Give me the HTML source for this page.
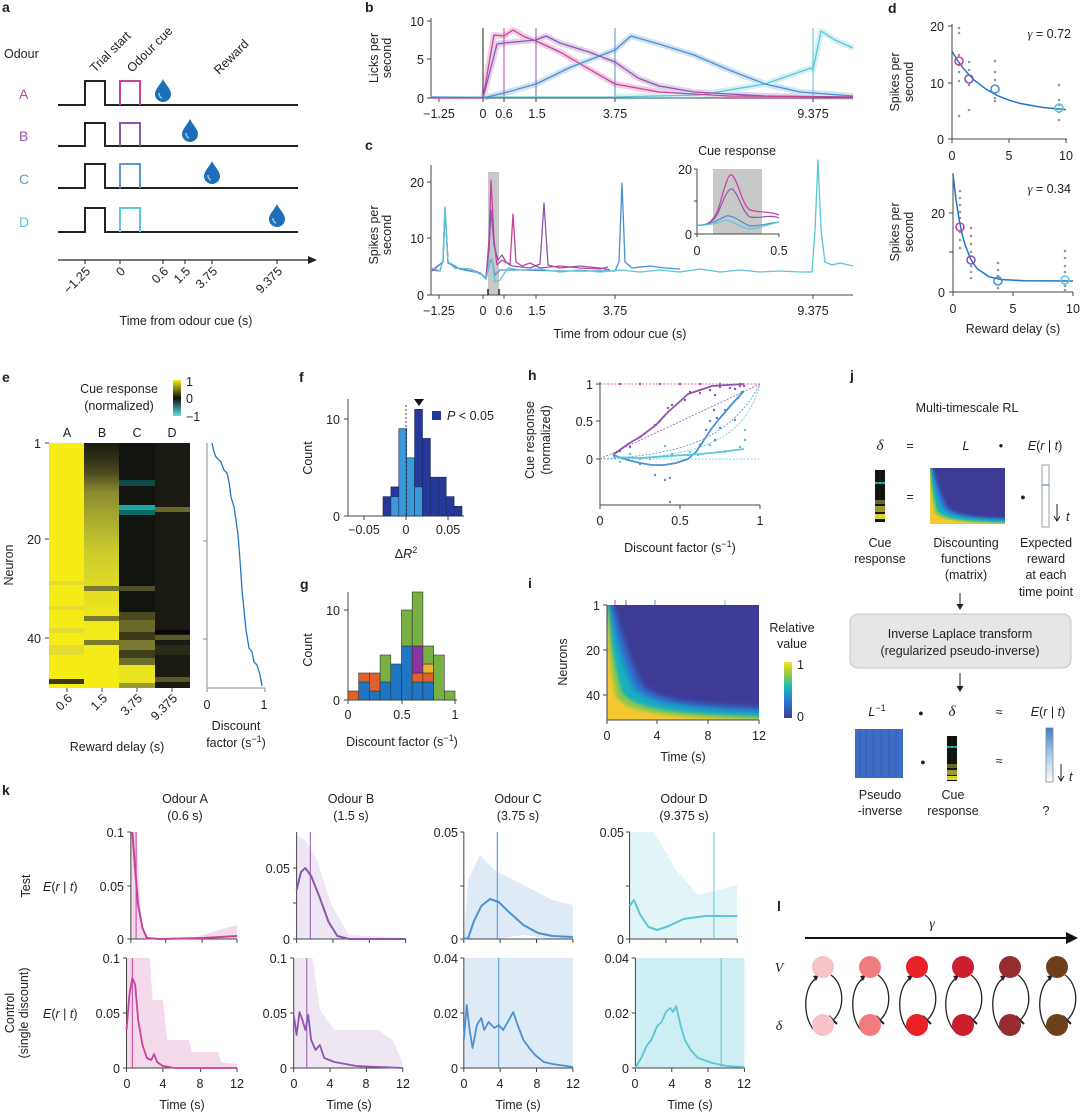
<!DOCTYPE html>
<html><head><meta charset="utf-8"><style>
html,body{margin:0;padding:0;background:#fff}
svg{display:block;font-family:"Liberation Sans",Arial,sans-serif;}
text{fill:#222}
.t{font-size:12.5px}
.L{font-size:14px;font-weight:bold}
.ax{stroke:#444;stroke-width:1;fill:none}
.ks *{vector-effect:non-scaling-stroke}
</style></head><body>
<svg width="1080" height="1114" viewBox="0 0 1080 1114" xmlns="http://www.w3.org/2000/svg">
<defs>
<filter id="bl" x="-10%" y="-10%" width="120%" height="120%"><feGaussianBlur stdDeviation="3"/></filter>
<filter id="bl2"><feGaussianBlur stdDeviation="1.5"/></filter>
<linearGradient id="cbE" x1="0" y1="0" x2="0" y2="1"><stop offset="0" stop-color="#f5ec16"/><stop offset=".5" stop-color="#101010"/><stop offset="1" stop-color="#5fe0e0"/></linearGradient>
<linearGradient id="cbI" x1="0" y1="1" x2="0" y2="0"><stop offset="0" stop-color="#3e3b96"/><stop offset=".3" stop-color="#2a78d0"/><stop offset=".55" stop-color="#18b8b8"/><stop offset=".8" stop-color="#9ccc40"/><stop offset="1" stop-color="#f8e020"/></linearGradient>
<linearGradient id="gB" x1="0" y1="443" x2="0" y2="688" gradientUnits="userSpaceOnUse">
<stop offset="0" stop-color="#1c1c10"/><stop offset=".06" stop-color="#2e2e16"/><stop offset=".12" stop-color="#4a4a20"/><stop offset=".2" stop-color="#8a8a30"/><stop offset=".3" stop-color="#a8a830"/><stop offset=".45" stop-color="#cccc2c"/><stop offset=".6" stop-color="#e2dc26"/><stop offset=".75" stop-color="#f2ea1a"/><stop offset="1" stop-color="#f5ec16"/></linearGradient>
<linearGradient id="vecE" x1="0" y1="0" x2="0" y2="1"><stop offset="0" stop-color="#3a80c8"/><stop offset=".5" stop-color="#a8cce8"/><stop offset="1" stop-color="#fff"/></linearGradient>
<g id="drop"><path d="M0,-11 C2,-6 8,-1 8,4 A8,8 0 0 1 -8,4 C-8,-1 -2,-6 0,-11Z" fill="#1a6fb8"/><path d="M-4,3 Q-4,7 -1,8" stroke="#9cc8ee" stroke-width="1.5" fill="none"/></g>
<g id="ihm">
<rect width="152" height="115" fill="#3e3b96"/>
<path d="M-5,-5 L6,0 C12,20 20,50 35,80 C50,95 80,100 160,103 L160,120 L-5,120Z" fill="#2d6fd0" filter="url(#bl)"/>
<path d="M-5,0 L3,0 C7,25 14,55 26,82 C40,98 70,104 160,107 L160,120 L-5,120Z" fill="#16b0c0" filter="url(#bl)"/>
<path d="M-5,0 L1,0 C3,30 7,60 15,88 C30,104 60,109 160,112 L160,120 L-5,120Z" fill="#8ec84a" filter="url(#bl2)"/>
<path d="M-5,10 L0,10 C1,40 4,70 9,92 C22,108 50,112 160,115 L160,120 L-5,120Z" fill="#f5c830" filter="url(#bl2)"/>
</g>
</defs>

<!-- ===== Panel a ===== -->
<text class="L" x="2" y="12">a</text>
<text class="t" x="4" y="58" font-size="14">Odour</text>
<text class="t" x="95" y="73" transform="rotate(-45 95 73)" font-size="13.5">Trial start</text>
<text class="t" x="132" y="73" transform="rotate(-45 132 73)" font-size="13.5">Odour cue</text>
<text class="t" x="219" y="75" transform="rotate(-45 219 75)" font-size="13.5">Reward</text>
<g font-size="14">
<text x="19" y="99" style="fill:#c8419b">A</text>
<text x="19" y="141" style="fill:#8e55b0">B</text>
<text x="19" y="184" style="fill:#5b9bd5">C</text>
<text x="19" y="227" style="fill:#5cc8d8">D</text>
</g>
<g stroke-width="2" fill="none">
<path d="M58,105H85V81H105V105H298" stroke="#222"/><path d="M120,105V81H140V105" stroke="#c8419b"/>
<path d="M58,146H85V123H105V146H298" stroke="#222"/><path d="M120,146V123H140V146" stroke="#8e55b0"/>
<path d="M58,188H85V164H105V188H298" stroke="#222"/><path d="M120,188V164H140V188" stroke="#5b9bd5"/>
<path d="M58,232H85V208H105V232H298" stroke="#222"/><path d="M120,232V208H140V232" stroke="#5cc8d8"/>
</g>
<use href="#drop" x="163" y="90"/><use href="#drop" x="190" y="130"/><use href="#drop" x="212" y="172"/><use href="#drop" x="277" y="215"/>
<path d="M58,260H310" stroke="#222" stroke-width="1.2"/><path d="M308,256L317,260L308,264Z" fill="#222"/>
<g stroke="#222"><path d="M85,260v4M120,260v4M163,260v4M185,260v4M212,260v4M277,260v4"/></g>
<g class="t" text-anchor="end" font-size="13">
<text x="91" y="272" transform="rotate(-45 91 272)">−1.25</text>
<text x="126" y="272" transform="rotate(-45 126 272)">0</text>
<text x="169" y="272" transform="rotate(-45 169 272)">0.6</text>
<text x="191" y="272" transform="rotate(-45 191 272)">1.5</text>
<text x="218" y="272" transform="rotate(-45 218 272)">3.75</text>
<text x="283" y="272" transform="rotate(-45 283 272)">9.375</text>
</g>
<text class="t" x="186" y="325" text-anchor="middle" font-size="13.5">Time from odour cue (s)</text>

<!-- ===== Panel b ===== -->
<text class="L" x="365" y="12">b</text>
<path class="ax" d="M431,18V98H853"/>
<g stroke="#444"><path d="M427,21h4M427,59h4M427,98h4M439,98v4M483,98v4M504,98v4M536,98v4M615,98v4M813,98v4"/></g>
<g class="t" text-anchor="end"><text x="424" y="26">10</text><text x="424" y="64">5</text><text x="424" y="103">0</text></g>
<g class="t" text-anchor="middle"><text x="439" y="118">−1.25</text><text x="483" y="118">0</text><text x="504" y="118">0.6</text><text x="537" y="118">1.5</text><text x="615" y="118">3.75</text><text x="813" y="118">9.375</text></g>
<text class="t" transform="translate(378,58) rotate(-90)" text-anchor="middle">Licks per</text>
<text class="t" transform="translate(391,58) rotate(-90)" text-anchor="middle">second</text>
<g stroke-width="1"><path d="M483,28V98" stroke="#222"/><path d="M504,28V98" stroke="#c8419b"/><path d="M536,28V98" stroke="#8e55b0"/><path d="M615,28V98" stroke="#4a90d4"/><path d="M813,28V98" stroke="#5bc6d6"/></g>
<g fill="none" stroke-linejoin="round">
<g stroke-width="6" opacity=".25">
<polyline stroke="#c8419b" points="483,98 494,35 504,36 513,30 525,37 536,41 560,52 589,69 615,84 659,92 729,96 853,97"/>
<polyline stroke="#8e55b0" points="483,98 497,44 504,43 536,40 546,36 560,43 589,52 615,62 638,78 659,86 694,92 765,96 853,97"/>
<polyline stroke="#4a90d4" points="483,98 504,93 536,84 571,67 615,50 631,36 659,44 694,55 729,70 765,84 800,92 853,96"/>
<polyline stroke="#5bc6d6" points="615,97 700,95 765,84 811,68 813,70 821,31 835,40 853,48"/>
</g>
<g stroke-width="1.3">
<polyline stroke="#5bc6d6" points="432,97 615,97 700,95 765,84 811,68 813,70 821,31 835,40 853,48"/>
<polyline stroke="#4a90d4" points="432,97 483,98 504,93 536,84 571,67 615,50 631,36 659,44 694,55 729,70 765,84 800,92 853,96"/>
<polyline stroke="#8e55b0" points="432,98 483,98 497,44 504,43 536,40 546,36 560,43 589,52 615,62 638,78 659,86 694,92 765,96 853,97"/>
<polyline stroke="#c8419b" points="432,98 483,98 494,35 504,36 513,30 525,37 536,41 560,52 589,69 615,84 659,92 729,96 853,97"/>
</g></g>

<!-- ===== Panel c ===== -->
<text class="L" x="365" y="150">c</text>
<rect x="488" y="172" width="11" height="123" fill="#c8c8c8"/>
<path class="ax" d="M431,165V295H853"/>
<g stroke="#444"><path d="M427,182h4M427,238h4M427,295h4M439,295v4M483,295v4M504,295v4M536,295v4M615,295v4M813,295v4"/><path d="M488,289v6M499,289v6" stroke="#222" stroke-width="1.5"/></g>
<g class="t" text-anchor="end"><text x="424" y="187">20</text><text x="424" y="243">10</text><text x="424" y="300">0</text></g>
<g class="t" text-anchor="middle"><text x="439" y="315">−1.25</text><text x="483" y="315">0</text><text x="504" y="315">0.6</text><text x="537" y="315">1.5</text><text x="615" y="315">3.75</text><text x="813" y="315">9.375</text></g>
<text class="t" x="620" y="338" text-anchor="middle" font-size="13.5">Time from odour cue (s)</text>
<text class="t" transform="translate(378,235) rotate(-90)" text-anchor="middle">Spikes per</text>
<text class="t" transform="translate(391,235) rotate(-90)" text-anchor="middle">second</text>
<g fill="none" stroke-width="1.3" stroke-linejoin="round">
<polyline stroke="#c8419b" points="432,270 440,271 443,260 445,209 448,262 455,268 470,269 480,273 486,278 489,240 491,180 494,240 497,265 502,260 510,265 513,214 516,262 522,266 530,263 540,268 560,266 580,268 600,269 608,267"/>
<polyline stroke="#8e55b0" points="432,271 443,262 445,210 448,263 460,269 480,273 486,278 489,250 491,210 494,245 498,260 502,255 506,262 512,266 530,268 540,264 544,203 548,265 560,268 580,266 600,268 610,270"/>
<polyline stroke="#4a90d4" points="432,270 443,262 445,208 448,262 460,269 480,273 486,279 490,262 492,260 495,275 500,270 520,270 560,271 600,271 615,271 619,262 622,183 625,262 632,268 650,266 665,268 680,269"/>
<polyline stroke="#5bc6d6" points="432,268 440,271 443,260 445,207 448,262 455,268 470,269 482,275 486,279 490,260 492,259 495,282 500,280 508,268 520,270 540,269 560,272 580,270 600,272 620,270 640,272 660,270 680,272 700,269 720,272 740,270 760,272 780,271 800,272 812,272 815,230 818,160 821,230 825,262 832,265 840,263 853,266"/>
</g>
<!-- inset -->
<text class="t" x="737" y="155" text-anchor="middle" font-size="13">Cue response</text>
<rect x="713" y="169" width="49" height="65" fill="#c8c8c8"/>
<path class="ax" d="M697,169V234H779"/>
<g stroke="#444"><path d="M694,169h3M694,201h3M694,234h3M697,234v3M779,234v3"/></g>
<g class="t" text-anchor="end" font-size="12"><text x="692" y="174">20</text><text x="692" y="239">0</text></g>
<g class="t" text-anchor="middle" font-size="12"><text x="697" y="255">0</text><text x="779" y="255">0.5</text></g>
<g fill="none" stroke-width="1.2">
<path d="M697,225 C705,226 712,224 718,210 C724,190 728,172 732,175 C738,180 742,205 750,210 C760,213 770,211 779,215" stroke="#c8419b"/>
<path d="M697,225 C705,226 712,224 718,213 C724,198 728,188 732,189 C738,192 742,212 750,217 C760,219 770,214 779,218" stroke="#8e55b0"/>
<path d="M697,225 C708,226 718,220 726,216 C734,215 740,222 750,226 C760,226 770,223 779,222" stroke="#4a90d4"/>
<path d="M697,225 C708,226 718,223 726,220 C734,221 740,228 750,229 C760,228 770,224 779,222" stroke="#5bc6d6"/>
</g>

<!-- ===== Panel d ===== -->
<text class="L" x="888" y="13">d</text>
<path class="ax" d="M952,24V139H1067"/>
<g stroke="#444"><path d="M948,26h4M948,83h4M948,139h4M952,139v4M1009,139v4M1066,139v4"/></g>
<g class="t" text-anchor="end"><text x="944" y="31">20</text><text x="944" y="88">10</text><text x="944" y="144">0</text></g>
<g class="t" text-anchor="middle"><text x="952" y="160">0</text><text x="1009" y="160">5</text><text x="1066" y="160">10</text></g>
<text class="t" x="1071" y="38" text-anchor="end" font-size="13"><tspan font-style="italic" font-family="Liberation Serif">γ</tspan> = 0.72</text>
<text class="t" transform="translate(899,82) rotate(-90)" text-anchor="middle">Spikes per</text>
<text class="t" transform="translate(913,82) rotate(-90)" text-anchor="middle">second</text>
<g fill="#999"><circle cx="959" cy="28" r="1.3"/><circle cx="959" cy="33" r="1.3"/><circle cx="959" cy="55" r="1.3"/><circle cx="959" cy="65" r="1.3"/><circle cx="959" cy="72" r="1.3"/><circle cx="959" cy="81" r="1.3"/><circle cx="959" cy="116" r="1.3"/><circle cx="969" cy="62" r="1.3"/><circle cx="969" cy="70" r="1.3"/><circle cx="969" cy="85" r="1.3"/><circle cx="969" cy="110" r="1.3"/><circle cx="995" cy="61" r="1.3"/><circle cx="995" cy="72" r="1.3"/><circle cx="995" cy="80" r="1.3"/><circle cx="995" cy="98" r="1.3"/><circle cx="995" cy="101" r="1.3"/><circle cx="1059" cy="85" r="1.3"/><circle cx="1059" cy="100" r="1.3"/><circle cx="1059" cy="105" r="1.3"/><circle cx="1059" cy="112" r="1.3"/><circle cx="1059" cy="120" r="1.3"/></g>
<polyline fill="none" stroke="#1f77c4" stroke-width="1.5" points="952,51.4 957.7,60.6 963.4,68.4 969.1,74.9 974.8,80.6 986.2,89.3 997.6,95.7 1009,100.2 1020.4,103.5 1043.2,107.5 1066,109.6"/>
<g fill="none" stroke-width="1.6"><circle cx="959" cy="61" r="4" stroke="#c8419b"/><circle cx="969" cy="79" r="4" stroke="#8e55b0"/><circle cx="995" cy="89" r="4" stroke="#4a90d4"/><circle cx="1059" cy="108" r="4" stroke="#5bc6d6"/></g>

<path class="ax" d="M953,173V292H1073"/>
<g stroke="#444"><path d="M949,213h4M949,252h4M949,292h4M953,292v4M1013,292v4M1073,292v4"/></g>
<g class="t" text-anchor="end"><text x="945" y="218">20</text><text x="945" y="297">0</text></g>
<g class="t" text-anchor="middle"><text x="953" y="313">0</text><text x="1013" y="313">5</text><text x="1073" y="313">10</text></g>
<text class="t" x="1071" y="193" text-anchor="end" font-size="13"><tspan font-style="italic" font-family="Liberation Serif">γ</tspan> = 0.34</text>
<text class="t" x="1013" y="333" text-anchor="middle" font-size="13">Reward delay (s)</text>
<text class="t" transform="translate(899,232) rotate(-90)" text-anchor="middle">Spikes per</text>
<text class="t" transform="translate(913,232) rotate(-90)" text-anchor="middle">second</text>
<g fill="#999"><circle cx="960" cy="191" r="1.3"/><circle cx="960" cy="198" r="1.3"/><circle cx="960" cy="205" r="1.3"/><circle cx="960" cy="212" r="1.3"/><circle cx="960" cy="218" r="1.3"/><circle cx="960" cy="232" r="1.3"/><circle cx="960" cy="240" r="1.3"/><circle cx="960" cy="248" r="1.3"/><circle cx="971" cy="228" r="1.3"/><circle cx="971" cy="236" r="1.3"/><circle cx="971" cy="244" r="1.3"/><circle cx="971" cy="252" r="1.3"/><circle cx="971" cy="266" r="1.3"/><circle cx="971" cy="272" r="1.3"/><circle cx="971" cy="278" r="1.3"/><circle cx="998" cy="263" r="1.3"/><circle cx="998" cy="270" r="1.3"/><circle cx="998" cy="276" r="1.3"/><circle cx="998" cy="288" r="1.3"/><circle cx="1065" cy="251" r="1.3"/><circle cx="1065" cy="258" r="1.3"/><circle cx="1065" cy="266" r="1.3"/><circle cx="1065" cy="272" r="1.3"/><circle cx="1065" cy="286" r="1.3"/><circle cx="1065" cy="290" r="1.3"/></g>
<polyline fill="none" stroke="#1f77c4" stroke-width="1.5" points="953,174.3 956,199.6 959,218.9 962,233.5 965,244.6 971,259.8 977,268.6 989,276.8 1001,279.5 1025,280.8 1073,281"/>
<g fill="none" stroke-width="1.6"><circle cx="960" cy="227" r="4" stroke="#c8419b"/><circle cx="971" cy="260" r="4" stroke="#8e55b0"/><circle cx="998" cy="281" r="4" stroke="#4a90d4"/><circle cx="1065" cy="280" r="4" stroke="#5bc6d6"/></g>

<!-- ===== Panel e ===== -->
<text class="L" x="2" y="382">e</text>
<rect x="173" y="380" width="8" height="36" fill="url(#cbE)"/>
<g class="t" font-size="12.5"><text x="186" y="386">1</text><text x="186" y="403">0</text><text x="186" y="421">−1</text></g>
<text class="t" x="119" y="393" text-anchor="middle" font-size="13">Cue response</text>
<text class="t" x="119" y="410" text-anchor="middle" font-size="13">(normalized)</text>
<g class="t" text-anchor="middle" font-size="13"><text x="67" y="437">A</text><text x="102" y="437">B</text><text x="137" y="437">C</text><text x="172" y="437">D</text></g>
<rect x="49" y="443" width="35" height="245" fill="#f5ec16"/>
<g fill="#e4dc30"><rect x="49" y="581" width="35" height="4"/><rect x="49" y="606" width="35" height="4"/><rect x="49" y="628" width="35" height="5"/><rect x="49" y="645" width="35" height="10"/></g>
<rect x="49" y="679" width="35" height="5" fill="#3a3a12"/>
<rect x="84" y="443" width="35" height="245" fill="url(#gB)"/>
<g fill="#7a7a2c"><rect x="84" y="586" width="35" height="5"/><rect x="84" y="616" width="35" height="5"/><rect x="84" y="640" width="35" height="5"/></g>
<rect x="119" y="443" width="36" height="245" fill="#121410"/>
<g><rect x="119" y="480" width="36" height="6" fill="#0d4a48"/><rect x="119" y="505" width="36" height="5" fill="#1aa8a8"/><rect x="119" y="510" width="36" height="5" fill="#0a6a66"/><rect x="119" y="586" width="36" height="5" fill="#50502a"/><rect x="119" y="612" width="36" height="8" fill="#4a4a20"/><rect x="119" y="620" width="36" height="12" fill="#6a6a2a"/><rect x="119" y="632" width="36" height="8" fill="#3a3a18"/><rect x="119" y="640" width="36" height="10" fill="#7a7a30"/><rect x="119" y="650" width="36" height="8" fill="#3e3e1a"/><rect x="119" y="658" width="36" height="7" fill="#6e6e2c"/><rect x="119" y="665" width="36" height="18" fill="#eae420"/><rect x="119" y="683" width="36" height="5" fill="#9a9a30"/></g>
<rect x="155" y="443" width="35" height="245" fill="#1a1a12"/>
<g><rect x="155" y="507" width="35" height="5" fill="#6a6a28"/><rect x="155" y="635" width="35" height="5" fill="#5a5a24"/><rect x="155" y="645" width="35" height="10" fill="#2a2a18"/><rect x="155" y="677" width="35" height="5" fill="#5a5a24"/><rect x="155" y="630" width="35" height="4" fill="#070707"/></g>
<g stroke="#444"><path d="M45,443h4M45,539h4M45,638h4M67,688v4M102,688v4M137,688v4M172,688v4"/></g>
<g class="t" text-anchor="end"><text x="41" y="448">1</text><text x="41" y="544">20</text><text x="41" y="643">40</text></g>
<text class="t" transform="translate(13,565) rotate(-90)" text-anchor="middle">Neuron</text>
<g class="t" text-anchor="end" font-size="12.5">
<text x="73" y="699" transform="rotate(-45 73 699)">0.6</text>
<text x="108" y="699" transform="rotate(-45 108 699)">1.5</text>
<text x="143" y="699" transform="rotate(-45 143 699)">3.75</text>
<text x="178" y="699" transform="rotate(-45 178 699)">9.375</text>
</g>
<text class="t" x="117" y="751" text-anchor="middle" font-size="13">Reward delay (s)</text>
<path d="M207,443V688H265" fill="none" stroke="#888"/>
<g stroke="#888"><path d="M203,541h4M203,639h4M207,688v4M265,688v4"/></g>
<polyline fill="none" stroke="#1f77c4" stroke-width="1.3" points="212,443 214,452 216,457 221,462 224,470 227,473 229,482 231,497 234,507 236,520 238,535 240,560 242,590 244,610 246,630 249,648 252,652 254,662 257,665 260,675 262,686"/>
<g class="t" text-anchor="middle"><text x="207" y="709">0</text><text x="264" y="709">1</text></g>
<text class="t" x="236" y="730" text-anchor="middle" font-size="13">Discount</text>
<text class="t" x="236" y="747" text-anchor="middle" font-size="13">factor (s<tspan baseline-shift="super" font-size="9">−1</tspan>)</text>

<!-- ===== Panel f ===== -->
<text class="L" x="299" y="382">f</text>
<path class="ax" d="M348,399V516H464"/>
<g stroke="#444"><path d="M344,419h4M344,516h4M364,516v4M406,516v4M448,516v4"/></g>
<g class="t" text-anchor="end"><text x="340" y="424">10</text><text x="340" y="521">0</text></g>
<g class="t" text-anchor="middle"><text x="364" y="534">−0.05</text><text x="406" y="534">0</text><text x="448" y="534">0.05</text></g>
<text class="t" x="406" y="558" text-anchor="middle" font-size="13">Δ<tspan font-style="italic">R</tspan><tspan baseline-shift="super" font-size="9">2</tspan></text>
<text class="t" transform="translate(312,458) rotate(-90)" text-anchor="middle">Count</text>
<g stroke="#1a2a60" stroke-width=".6">
<rect x="383" y="496.6" width="7.9" height="19.4" fill="#25399a"/>
<rect x="390.9" y="486.9" width="7.9" height="9.7" fill="#25399a"/><rect x="390.9" y="496.6" width="7.9" height="19.4" fill="#3a9ad9"/>
<rect x="398.8" y="428.7" width="7.9" height="87.3" fill="#3a9ad9"/>
<rect x="406.7" y="457.8" width="7.9" height="58.2" fill="#3a9ad9"/>
<rect x="414.6" y="409.3" width="7.9" height="77.6" fill="#25399a"/><rect x="414.6" y="486.9" width="7.9" height="29.1" fill="#3a9ad9"/>
<rect x="422.5" y="438.4" width="7.9" height="77.6" fill="#25399a"/>
<rect x="430.4" y="477.2" width="7.9" height="38.8" fill="#25399a"/>
<rect x="438.3" y="477.2" width="7.9" height="38.8" fill="#25399a"/>
<rect x="446.2" y="496.6" width="7.9" height="19.4" fill="#25399a"/>
<rect x="454.1" y="506.3" width="7.9" height="9.7" fill="#25399a"/>
</g>
<path d="M406,405V516" stroke="#444" stroke-dasharray="2,2"/>
<path d="M414,399h10l-5,7z" fill="#111"/>
<rect x="432" y="411" width="9" height="9" fill="#25399a"/>
<text class="t" x="447" y="420" font-size="13"><tspan font-style="italic">P</tspan> &lt; 0.05</text>

<!-- ===== Panel g ===== -->
<text class="L" x="300" y="589">g</text>
<path class="ax" d="M348,592V700H457"/>
<g stroke="#444"><path d="M344,610h4M344,700h4M348,700v4M402,700v4M455,700v4"/></g>
<g class="t" text-anchor="end"><text x="340" y="615">10</text><text x="340" y="705">0</text></g>
<g class="t" text-anchor="middle"><text x="348" y="719">0</text><text x="402" y="719">0.5</text><text x="455" y="719">1</text></g>
<text class="t" x="402" y="746" text-anchor="middle" font-size="13">Discount factor (s<tspan baseline-shift="super" font-size="9">−1</tspan>)</text>
<text class="t" transform="translate(312,650) rotate(-90)" text-anchor="middle">Count</text>
<g stroke="#333" stroke-width=".6">
<rect x="348" y="691" width="10.7" height="9" fill="#e0622a"/>
<rect x="358.7" y="682" width="10.7" height="18" fill="#1f77c4"/><rect x="358.7" y="673" width="10.7" height="9" fill="#e0622a"/>
<rect x="369.4" y="691" width="10.7" height="9" fill="#1f77c4"/><rect x="369.4" y="673" width="10.7" height="18" fill="#e0622a"/>
<rect x="380.1" y="682" width="10.7" height="18" fill="#1f77c4"/><rect x="380.1" y="655" width="10.7" height="27" fill="#78b043"/>
<rect x="390.8" y="664" width="10.7" height="36" fill="#1f77c4"/>
<rect x="401.5" y="646" width="10.7" height="54" fill="#1f77c4"/><rect x="401.5" y="610" width="10.7" height="36" fill="#78b043"/>
<rect x="412.2" y="682" width="10.7" height="18" fill="#1f77c4"/><rect x="412.2" y="673" width="10.7" height="9" fill="#e0622a"/><rect x="412.2" y="646" width="10.7" height="27" fill="#8a35a0"/><rect x="412.2" y="592" width="10.7" height="54" fill="#78b043"/>
<rect x="422.9" y="682" width="10.7" height="18" fill="#1f77c4"/><rect x="422.9" y="673" width="10.7" height="9" fill="#e0622a"/><rect x="422.9" y="664" width="10.7" height="9" fill="#f0b429"/><rect x="422.9" y="646" width="10.7" height="18" fill="#78b043"/>
<rect x="433.6" y="655" width="10.7" height="45" fill="#78b043"/>
<rect x="444.3" y="691" width="10.7" height="9" fill="#78b043"/>
</g>

<!-- ===== Panel h ===== -->
<text class="L" x="528" y="380">h</text>
<path class="ax" d="M600,382V505H760"/>
<g stroke="#444"><path d="M596,384h4M596,421h4M596,459h4M600,505v4M680,505v4M760,505v4"/></g>
<g class="t" text-anchor="end"><text x="593" y="389">1</text><text x="593" y="426">0.5</text><text x="593" y="464">0</text></g>
<g class="t" text-anchor="middle"><text x="600" y="525">0</text><text x="680" y="525">0.5</text><text x="760" y="525">1</text></g>
<text class="t" x="680" y="552" text-anchor="middle" font-size="13">Discount factor (s<tspan baseline-shift="super" font-size="9">−1</tspan>)</text>
<text class="t" transform="translate(534,440) rotate(-90)" text-anchor="middle" font-size="13">Cue response</text>
<text class="t" transform="translate(550,440) rotate(-90)" text-anchor="middle" font-size="13">(normalized)</text>
<g fill="none" stroke-width=".8" stroke-dasharray="2,1.5">
<path d="M600,384H760" stroke="#c8419b"/>
<path d="M600,459L760,384" stroke="#8e55b0"/>
<path d="M600,459 C680,455 730,440 760,384" stroke="#4a90d4"/>
<path d="M600,459 C700,459 745,440 760,384" stroke="#5bc6d6"/>
<path d="M600,459H760" stroke="#5bc6d6"/>
</g>
<g fill="#c8419b"><circle cx="620" cy="384" r="1.2"/><circle cx="640" cy="384" r="1.2"/><circle cx="660" cy="384" r="1.2"/><circle cx="680" cy="384" r="1.2"/><circle cx="700" cy="384" r="1.2"/><circle cx="720" cy="384" r="1.2"/><circle cx="740" cy="384" r="1.2"/><circle cx="730" cy="388" r="1.2"/><circle cx="744" cy="386" r="1.2"/></g>
<g fill="#8e55b0"><circle cx="620" cy="451" r="1.2"/><circle cx="630" cy="447" r="1.2"/><circle cx="640" cy="437" r="1.2"/><circle cx="655" cy="425" r="1.2"/><circle cx="660" cy="421" r="1.2"/><circle cx="668" cy="408" r="1.2"/><circle cx="672" cy="405" r="1.2"/><circle cx="685" cy="400" r="1.2"/><circle cx="690" cy="392" r="1.2"/><circle cx="700" cy="393" r="1.2"/><circle cx="710" cy="390" r="1.2"/><circle cx="715" cy="395" r="1.2"/><circle cx="720" cy="387" r="1.2"/><circle cx="735" cy="389" r="1.2"/><circle cx="740" cy="386" r="1.2"/><circle cx="714" cy="410" r="1.2"/><circle cx="717" cy="418" r="1.2"/></g>
<g fill="#4a90d4"><circle cx="616" cy="457" r="1.2"/><circle cx="640" cy="464" r="1.2"/><circle cx="655" cy="475" r="1.2"/><circle cx="665" cy="480" r="1.2"/><circle cx="670" cy="478" r="1.2"/><circle cx="670" cy="502" r="1.2"/><circle cx="688" cy="455" r="1.2"/><circle cx="700" cy="445" r="1.2"/><circle cx="706" cy="430" r="1.2"/><circle cx="710" cy="421" r="1.2"/><circle cx="715" cy="440" r="1.2"/><circle cx="720" cy="428" r="1.2"/><circle cx="725" cy="410" r="1.2"/><circle cx="738" cy="398" r="1.2"/><circle cx="742" cy="392" r="1.2"/><circle cx="735" cy="420" r="1.2"/></g>
<g fill="#5bc6d6"><circle cx="620" cy="462" r="1.2"/><circle cx="630" cy="454" r="1.2"/><circle cx="640" cy="459" r="1.2"/><circle cx="650" cy="459" r="1.2"/><circle cx="665" cy="446" r="1.2"/><circle cx="672" cy="454" r="1.2"/><circle cx="690" cy="452" r="1.2"/><circle cx="698" cy="455" r="1.2"/><circle cx="710" cy="445" r="1.2"/><circle cx="725" cy="452" r="1.2"/><circle cx="740" cy="447" r="1.2"/><circle cx="745" cy="440" r="1.2"/><circle cx="745" cy="430" r="1.2"/></g>
<g fill="none" stroke-width="1.8" stroke-linejoin="round">
<polyline stroke="#8e55b0" points="613,455 628,444 640,437 656,425 668,412 676,405 688,394 700,390 712,386 744,384"/>
<polyline stroke="#4a90d4" points="613,455 628,460 640,463 652,465 664,465 676,463 688,459 696,452 704,440 712,428 720,418 732,404 744,391"/>
<polyline stroke="#5bc6d6" points="613,457 640,458 670,456 700,454 720,452 744,449"/>
</g>

<!-- ===== Panel i ===== -->
<text class="L" x="528" y="588">i</text>
<svg x="607" y="605" width="152" height="115" viewBox="0 0 152 115" overflow="hidden"><use href="#ihm"/></svg>
<path class="ax" d="M607,605V720H759"/>
<g stroke="#444"><path d="M603,605h4M603,650h4M603,695h4M607,720v4M657,720v4M708,720v4M759,720v4"/></g>
<g stroke-width="1"><path d="M615,600v5" stroke="#c8419b"/><path d="M626,600v5" stroke="#8e55b0"/><path d="M655,600v5" stroke="#4a90d4"/><path d="M725,600v5" stroke="#5bc6d6"/></g>
<g class="t" text-anchor="end"><text x="600" y="610">1</text><text x="600" y="655">20</text><text x="600" y="700">40</text></g>
<g class="t" text-anchor="middle"><text x="607" y="740">0</text><text x="657" y="740">4</text><text x="708" y="740">8</text><text x="759" y="740">12</text></g>
<text class="t" x="683" y="761" text-anchor="middle" font-size="13">Time (s)</text>
<text class="t" transform="translate(567,662) rotate(-90)" text-anchor="middle" font-size="13">Neurons</text>
<text class="t" x="792" y="632" text-anchor="middle" font-size="13">Relative</text>
<text class="t" x="792" y="648" text-anchor="middle" font-size="13">value</text>
<rect x="784" y="662" width="8" height="56" fill="url(#cbI)"/>
<g class="t" font-size="13"><text x="797" y="669">1</text><text x="797" y="721">0</text></g>

<!-- ===== Panel j ===== -->
<text class="L" x="850" y="380">j</text>
<text class="t" x="967" y="412" text-anchor="middle" font-size="13">Multi-timescale RL</text>
<g class="t" font-size="13" text-anchor="middle">
<text x="880" y="450" font-family="Liberation Serif" font-style="italic" font-size="15">δ</text>
<text x="910" y="450">=</text>
<text x="966" y="450" font-style="italic">L</text>
<text x="1001" y="450">•</text>
<text x="1045" y="450"><tspan font-style="italic">E</tspan>(<tspan font-style="italic">r</tspan> | <tspan font-style="italic">t</tspan>)</text>
<text x="910" y="501">=</text>
<text x="1023" y="500" font-size="9">●</text>
</g>
<rect x="875" y="470" width="10" height="52" fill="#121410"/>
<g><rect x="875" y="482" width="10" height="2" fill="#1aa8a8"/><rect x="875" y="500" width="10" height="4" fill="#6a6a28"/><rect x="875" y="506" width="10" height="6" fill="#9a9a30"/><rect x="875" y="514" width="10" height="5" fill="#dcd428"/></g>
<svg x="930" y="468" width="75" height="56" viewBox="0 0 152 115" preserveAspectRatio="none" overflow="hidden"><use href="#ihm"/></svg>
<rect x="1042" y="465" width="7" height="62" fill="#fff" stroke="#888" stroke-width=".8"/>
<path d="M1042,485h7" stroke="#4a90d4" stroke-width="1.2"/>
<path d="M1057,504v16" stroke="#222"/><path d="M1054,516l3,5 3,-5" fill="none" stroke="#222"/>
<text class="t" x="1066" y="521" font-style="italic" font-size="13">t</text>
<g class="t" font-size="13" text-anchor="middle">
<text x="880" y="547">Cue</text><text x="880" y="563">response</text>
<text x="966" y="547">Discounting</text><text x="966" y="563">functions</text><text x="966" y="579">(matrix)</text>
<text x="1046" y="547">Expected</text><text x="1046" y="563">reward</text><text x="1046" y="579">at each</text><text x="1046" y="596">time point</text>
</g>
<path d="M960,593V608" stroke="#222"/><path d="M957,604l3,5 3,-5" fill="#222" stroke="#222"/>
<rect x="850" y="614" width="221" height="54" rx="8" fill="#e6e6e6" stroke="#c4c4c4"/>
<g class="t" font-size="13" text-anchor="middle"><text x="960" y="638">Inverse Laplace transform</text><text x="960" y="655">(regularized pseudo-inverse)</text></g>
<path d="M960,673V690" stroke="#222"/><path d="M957,686l3,5 3,-5" fill="#222" stroke="#222"/>
<g class="t" font-size="13" text-anchor="middle">
<text x="877" y="716"><tspan font-style="italic">L</tspan><tspan baseline-shift="super" font-size="9">−1</tspan></text>
<text x="921" y="716" font-size="9">●</text>
<text x="952" y="716" font-family="Liberation Serif" font-style="italic" font-size="15">δ</text>
<text x="999" y="716">≈</text>
<text x="1048" y="716"><tspan font-style="italic">E</tspan>(<tspan font-style="italic">r</tspan> | <tspan font-style="italic">t</tspan>)</text>
<text x="923" y="765" font-size="9">●</text>
<text x="999" y="765">≈</text>
<text x="880" y="799">Pseudo</text><text x="880" y="815">-inverse</text>
<text x="953" y="799">Cue</text><text x="953" y="815">response</text>
<text x="1046" y="815">?</text>
</g>
<rect x="855" y="729" width="48" height="49" fill="#3e6cc4"/>
<g stroke="#2e58b0" stroke-width="1" opacity=".7"><path d="M860,729v49M866,729v49M873,729v49M881,729v49M889,729v49M896,729v49"/></g>
<rect x="947" y="736" width="10" height="45" fill="#121410"/>
<g><rect x="947" y="746" width="10" height="2" fill="#1aa8a8"/><rect x="947" y="764" width="10" height="4" fill="#6a6a28"/><rect x="947" y="770" width="10" height="5" fill="#9a9a30"/><rect x="947" y="776" width="10" height="4" fill="#dcd428"/></g>
<rect x="1046" y="728" width="7" height="54" fill="url(#vecE)" stroke="#888" stroke-width=".8"/>
<path d="M1061,764v16" stroke="#222"/><path d="M1058,776l3,5 3,-5" fill="none" stroke="#222"/>
<text class="t" x="1069" y="781" font-style="italic" font-size="13">t</text>

<!-- ===== Panel k ===== -->
<text class="L" x="2" y="795">k</text>
<g class="t" font-size="13" text-anchor="middle">
<text x="185" y="803">Odour A</text><text x="185" y="820">(0.6 s)</text>
<text x="351" y="803">Odour B</text><text x="351" y="820">(1.5 s)</text>
<text x="518" y="803">Odour C</text><text x="518" y="820">(3.75 s)</text>
<text x="684" y="803">Odour D</text><text x="684" y="820">(9.375 s)</text>
</g>
<text class="t" transform="translate(30,886) rotate(-90)" text-anchor="middle" font-size="13">Test</text>
<text class="t" transform="translate(14,1013) rotate(-90)" text-anchor="middle" font-size="13">Control</text>
<text class="t" transform="translate(28,1013) rotate(-90)" text-anchor="middle" font-size="13">(single discount)</text>
<text class="t" x="43" y="891" font-size="13"><tspan font-style="italic">E</tspan>(<tspan font-style="italic">r</tspan> | <tspan font-style="italic">t</tspan>)</text>
<text class="t" x="43" y="1018" font-size="13"><tspan font-style="italic">E</tspan>(<tspan font-style="italic">r</tspan> | <tspan font-style="italic">t</tspan>)</text>

<g class="ks" transform="matrix(1.454,0,0,1,0,0)">
<path d="M90,832 L94,832 L97,920 L101,939 L130,939 L163,925 L163,939 L90,939Z" fill="#c8419b" opacity=".2"/>
<path d="M204,835 L210,840 L218,860 L228,905 L240,935 L279,938 L279,939 L204,939Z" fill="#8e55b0" opacity=".15"/>
<path d="M319,939 L322,880 L330,855 L340,870 L360,885 L380,900 L394,905 L394,939 L380,939 L360,935 L340,939Z" fill="#4a90d4" opacity=".18"/>
<path d="M433,832 L450,832 L465,870 L480,895 L507,885 L507,939 L433,939Z" fill="#5bc6d6" opacity=".18"/>
<path d="M87,958 L103,958 L105,1000 L112,1000 L115,1040 L130,1040 L132,1052 L150,1052 L152,1062 L163,1064 L163,1068 L87,1068Z" fill="#c8419b" opacity=".2"/>
<path d="M202,958 L215,958 L220,1010 L230,1030 L260,1030 L270,1040 L277,1062 L277,1068 L202,1068Z" fill="#8e55b0" opacity=".15"/>
<rect x="319" y="958" width="75" height="110" fill="#4a90d4" opacity=".18"/>
<rect x="437" y="958" width="75" height="110" fill="#5bc6d6" opacity=".3"/>
<g class="ax">
<path d="M90,832V939H163"/><path d="M204,832V939H279"/><path d="M319,832V939H394"/><path d="M433,832V939H507"/>
<path d="M87,958V1068H163"/><path d="M202,958V1068H277"/><path d="M319,958V1068H394"/><path d="M437,958V1068H512"/>
</g>
<g stroke="#444">
<path d="M87.5,832h2.5M87.5,886h2.5M87.5,939h2.5M90,939v4M114,939v4M139,939v4M163,939v4"/>
<path d="M201.5,868h2.5M201.5,903h2.5M201.5,939h2.5M204,939v4M229,939v4M254,939v4M279,939v4"/>
<path d="M316.5,832h2.5M316.5,886h2.5M316.5,939h2.5M319,939v4M344,939v4M369,939v4M394,939v4"/>
<path d="M430.5,832h2.5M430.5,886h2.5M430.5,939h2.5M433,939v4M458,939v4M482,939v4M507,939v4"/>
<path d="M84.5,958h2.5M84.5,1013h2.5M84.5,1068h2.5M87,1068v4M112,1068v4M138,1068v4M163,1068v4"/>
<path d="M199.5,958h2.5M199.5,1013h2.5M199.5,1068h2.5M202,1068v4M227,1068v4M252,1068v4M277,1068v4"/>
<path d="M316.5,958h2.5M316.5,1013h2.5M316.5,1068h2.5M319,1068v4M344,1068v4M369,1068v4M394,1068v4"/>
<path d="M434.5,958h2.5M434.5,1013h2.5M434.5,1068h2.5M437,1068v4M462,1068v4M487,1068v4M512,1068v4"/>
</g>
<g stroke-width="1">
<path d="M93.6,832V939" stroke="#c8419b"/><path d="M213.4,832V939" stroke="#8e55b0"/><path d="M342,832V939" stroke="#4a90d4"/><path d="M491,832V939" stroke="#5bc6d6"/>
<path d="M91,958V1068" stroke="#c8419b"/><path d="M211,958V1068" stroke="#8e55b0"/><path d="M343,958V1068" stroke="#4a90d4"/><path d="M496,958V1068" stroke="#5bc6d6"/>
</g>
<g fill="none" stroke-width="2" stroke-linejoin="round">
<polyline stroke="#c8419b" points="91,832 93,870 95,905 98,928 101,938 110,939 140,938 163,936"/>
<polyline stroke="#8e55b0" points="204,890 207,872 210,868 214,876 220,898 226,922 232,936 240,939 279,939"/>
<polyline stroke="#4a90d4" points="319,939 322,938 326,921 331,906 337,899 343,902 350,912 360,925 370,933 380,936 394,937"/>
<polyline stroke="#5bc6d6" points="433,906 436,900 440,914 446,927 452,930 460,926 470,919 485,916 507,916"/>
</g>
<g fill="none" stroke-width="1.8" stroke-linejoin="round">
<polyline stroke="#c8419b" points="87,1030 89,995 91,978 93,985 95,1020 98,1045 101,1058 104,1060 106,1054 108,1062 112,1066 120,1068 163,1068"/>
<polyline stroke="#8e55b0" points="202,1015 204,1035 206,1012 208,1020 210,1030 212,1015 214,1040 217,1050 220,1045 223,1058 230,1062 245,1066 277,1068"/>
<polyline stroke="#4a90d4" points="319,1040 321,1005 323,1030 325,1048 328,1025 331,1018 333,1030 336,1022 340,1028 343,1025 346,1030 350,1020 353,1012 356,1025 360,1040 364,1048 368,1055 374,1062 380,1064 394,1067"/>
<polyline stroke="#5bc6d6" points="437,1068 441,1058 445,1045 448,1040 452,1026 455,1022 458,1012 461,1008 463,1012 465,1006 468,1025 471,1040 475,1050 480,1058 490,1063 500,1066 512,1067"/>
</g>
</g>
<g class="t" text-anchor="end" font-size="12.5">
<text x="124" y="837">0.1</text><text x="124" y="891">0.05</text><text x="124" y="944">0</text>
<text x="290" y="873">0.05</text><text x="290" y="944">0</text>
<text x="458" y="837">0.05</text><text x="458" y="944">0</text>
<text x="624" y="837">0.05</text><text x="624" y="944">0</text>
<text x="120" y="963">0.1</text><text x="120" y="1018">0.05</text><text x="120" y="1073">0</text>
<text x="287" y="963">0.1</text><text x="287" y="1018">0.05</text><text x="287" y="1073">0</text>
<text x="458" y="963">0.04</text><text x="458" y="1018">0.02</text><text x="458" y="1073">0</text>
<text x="629" y="963">0.04</text><text x="629" y="1018">0.02</text><text x="629" y="1073">0</text>
</g>
<g class="t" text-anchor="middle" font-size="12.5">
<text x="127" y="1088">0</text><text x="163" y="1088">4</text><text x="200" y="1088">8</text><text x="237" y="1088">12</text>
<text x="294" y="1088">0</text><text x="330" y="1088">4</text><text x="366" y="1088">8</text><text x="403" y="1088">12</text>
<text x="464" y="1088">0</text><text x="500" y="1088">4</text><text x="537" y="1088">8</text><text x="573" y="1088">12</text>
<text x="635" y="1088">0</text><text x="672" y="1088">4</text><text x="708" y="1088">8</text><text x="744" y="1088">12</text>
</g>
<g class="t" text-anchor="middle" font-size="13">
<text x="182" y="1109">Time (s)</text><text x="349" y="1109">Time (s)</text><text x="518" y="1109">Time (s)</text><text x="690" y="1109">Time (s)</text>
</g>

<!-- ===== Panel l ===== -->
<text class="L" x="777" y="911">l</text>
<path d="M805,938H1068" stroke="#111" stroke-width="2"/><path d="M1066,932L1078,938L1066,944Z" fill="#111"/>
<text x="932" y="928" font-family="Liberation Serif" font-style="italic" font-size="14" text-anchor="middle">γ</text>
<text x="779" y="972" font-family="Liberation Serif" font-style="italic" font-size="14" text-anchor="middle">V</text>
<text x="779" y="1030" font-family="Liberation Serif" font-style="italic" font-size="14" text-anchor="middle">δ</text>
<g>
<g transform="translate(823,0)"><path d="M-6,1033 C-22,1020 -20,985 -6,978" fill="none" stroke="#222" stroke-width="1.3"/><path d="M-10,976 L-4,975 -7,981Z" fill="#222"/><path d="M8,975 C22,985 22,1010 10,1020" fill="none" stroke="#222" stroke-width="1.3"/><path d="M6,1016 L14,1024" stroke="#222" stroke-width="2"/><circle cx="0" cy="967" r="11" fill="#f6c4c8"/><circle cx="0" cy="1025" r="11" fill="#f6c4c8"/></g>
<g transform="translate(870,0)"><path d="M-6,1033 C-22,1020 -20,985 -6,978" fill="none" stroke="#222" stroke-width="1.3"/><path d="M-10,976 L-4,975 -7,981Z" fill="#222"/><path d="M8,975 C22,985 22,1010 10,1020" fill="none" stroke="#222" stroke-width="1.3"/><path d="M6,1016 L14,1024" stroke="#222" stroke-width="2"/><circle cx="0" cy="967" r="11" fill="#f07c80"/><circle cx="0" cy="1025" r="11" fill="#f07c80"/></g>
<g transform="translate(917,0)"><path d="M-6,1033 C-22,1020 -20,985 -6,978" fill="none" stroke="#222" stroke-width="1.3"/><path d="M-10,976 L-4,975 -7,981Z" fill="#222"/><path d="M8,975 C22,985 22,1010 10,1020" fill="none" stroke="#222" stroke-width="1.3"/><path d="M6,1016 L14,1024" stroke="#222" stroke-width="2"/><circle cx="0" cy="967" r="11" fill="#e82228"/><circle cx="0" cy="1025" r="11" fill="#e82228"/></g>
<g transform="translate(963,0)"><path d="M-6,1033 C-22,1020 -20,985 -6,978" fill="none" stroke="#222" stroke-width="1.3"/><path d="M-10,976 L-4,975 -7,981Z" fill="#222"/><path d="M8,975 C22,985 22,1010 10,1020" fill="none" stroke="#222" stroke-width="1.3"/><path d="M6,1016 L14,1024" stroke="#222" stroke-width="2"/><circle cx="0" cy="967" r="11" fill="#cc1e2e"/><circle cx="0" cy="1025" r="11" fill="#cc1e2e"/></g>
<g transform="translate(1010,0)"><path d="M-6,1033 C-22,1020 -20,985 -6,978" fill="none" stroke="#222" stroke-width="1.3"/><path d="M-10,976 L-4,975 -7,981Z" fill="#222"/><path d="M8,975 C22,985 22,1010 10,1020" fill="none" stroke="#222" stroke-width="1.3"/><path d="M6,1016 L14,1024" stroke="#222" stroke-width="2"/><circle cx="0" cy="967" r="11" fill="#962b30"/><circle cx="0" cy="1025" r="11" fill="#962b30"/></g>
<g transform="translate(1057,0)"><path d="M-6,1033 C-22,1020 -20,985 -6,978" fill="none" stroke="#222" stroke-width="1.3"/><path d="M-10,976 L-4,975 -7,981Z" fill="#222"/><path d="M8,975 C22,985 22,1010 10,1020" fill="none" stroke="#222" stroke-width="1.3"/><path d="M6,1016 L14,1024" stroke="#222" stroke-width="2"/><circle cx="0" cy="967" r="11" fill="#6d401c"/><circle cx="0" cy="1025" r="11" fill="#6d401c"/></g>
</g>
</svg>
</body></html>
